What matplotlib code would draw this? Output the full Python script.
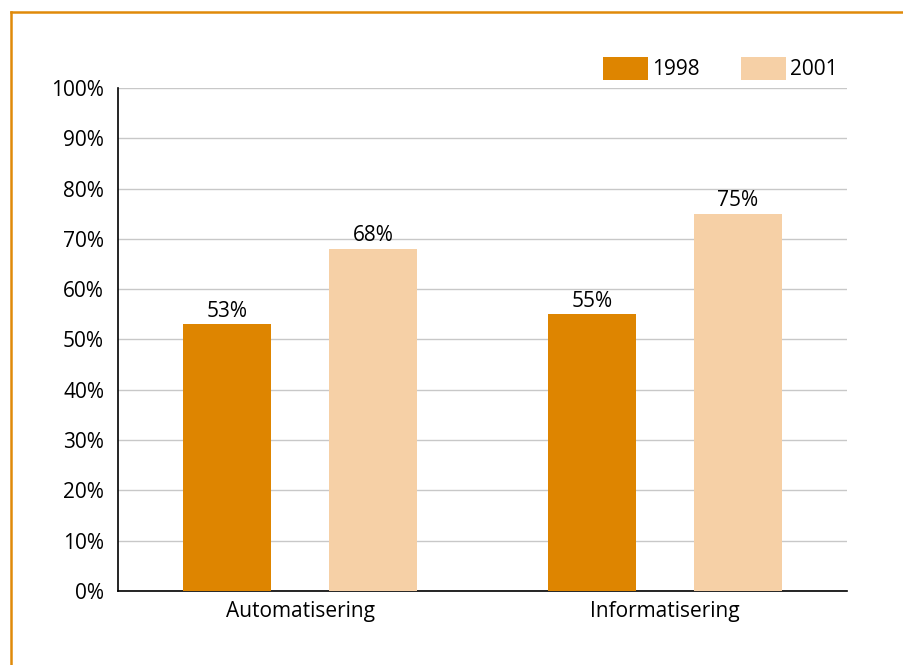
import matplotlib.pyplot as plt
from matplotlib.lines import Line2D
from matplotlib.patches import Patch
import numpy as np

plt.rcParams['font.family'] = ['Open Sans', 'DejaVu Sans']

# categories and shares per year
categories = ['Automatisering', 'Informatisering']
years = ['1998', '2001']
share_1998 = [53, 55]
share_2001 = [68, 75]
yticks = [0, 10, 20, 30, 40, 50, 60, 70, 80, 90, 100]

dark = '#DE8500'
light = '#F6D0A6'
border = '#E08A0A'

fig = plt.figure(figsize=(9.04, 6.65), dpi=100)
ax = fig.add_axes([118/904, 74/665, 729/904, 503/665])

x = np.arange(len(categories))
w = 0.242
b1 = ax.bar(x - 0.2, share_1998, w, color=dark, zorder=3)
b2 = ax.bar(x + 0.2, share_2001, w, color=light, zorder=3)

for bars, vals in [(b1, share_1998), (b2, share_2001)]:
    for r, v in zip(bars, vals):
        ax.text(r.get_x() + r.get_width()/2, v + 0.5, f'{v}%',
                ha='center', va='bottom', fontsize=15)

ax.set_xlim(-0.5, 1.5)
ax.set_ylim(0, 100)
ax.set_yticks(yticks)
ax.set_yticklabels([f'{t}%' for t in yticks], fontsize=15)
ax.set_xticks(x)
ax.set_xticklabels(categories, fontsize=15)
ax.tick_params(axis='both', length=0, pad=7)
ax.tick_params(axis='y', pad=10)

ax.grid(axis='y', color='#C8C8C8', linewidth=1, zorder=0)
for s in ['top', 'right']:
    ax.spines[s].set_visible(False)
for s in ['left', 'bottom']:
    ax.spines[s].set_color('black')
    ax.spines[s].set_linewidth(1.2)

handles = [Patch(facecolor=dark), Patch(facecolor=light)]
fig.legend(handles, years, loc='upper left', bbox_to_anchor=(603/904, 1 - 57/665),
           ncol=2, frameon=False, fontsize=15, handlelength=2.15, handleheight=1.3,
           handletextpad=0.2, columnspacing=2.0, borderpad=0, borderaxespad=0)

# frame lines along the top and left edge
fig.add_artist(Line2D([11/904, 1], [1 - 12/665, 1 - 12/665], color=border, linewidth=1.8))
fig.add_artist(Line2D([11/904, 11/904], [0, 1 - 12/665], color=border, linewidth=1.8))

fig.savefig('out.png', dpi=100)
